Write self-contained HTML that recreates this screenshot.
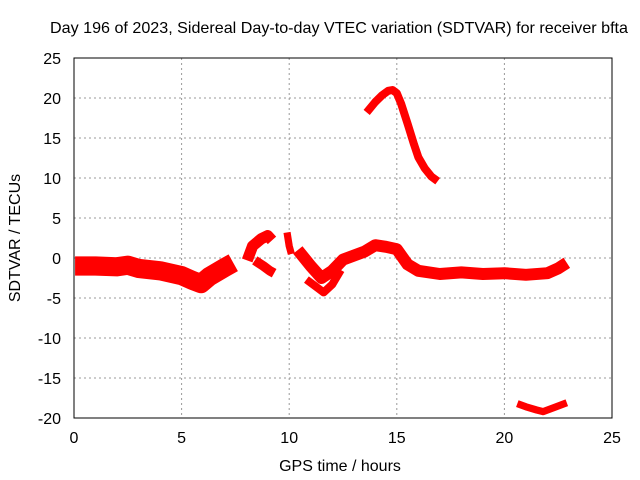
<!DOCTYPE html>
<html><head><meta charset="utf-8"><style>
body{margin:0;background:#fff}
svg{display:block;font-family:"Liberation Sans",sans-serif}
</style></head><body>
<svg id="chart" width="640" height="480">
<text x="339" y="33" font-size="16" text-anchor="middle" textLength="578" lengthAdjust="spacingAndGlyphs">Day 196 of 2023, Sidereal Day-to-day VTEC variation (SDTVAR) for receiver bfta</text>
<text x="340" y="471" font-size="16" text-anchor="middle">GPS time / hours</text>
<text transform="translate(20,238) rotate(-90)" font-size="16" text-anchor="middle">SDTVAR / TECUs</text>
<g id="grid"></g><g id="marks"></g>
<rect x="74" y="58" width="538" height="360" fill="none" stroke="#000" stroke-width="1"/>
</svg>
<script>
const xTicks=[0,5,10,15,20,25];
const yTicks=[25,20,15,10,5,0,-5,-10,-15,-20];
// tracks: [hours array, values array, thickness in TECU]
const mainH=[0.05,1,2,2.5,3,4,5,5.5,5.9,6.3,7,7.4];
const mainV=[-1,-1,-1.1,-0.9,-1.3,-1.6,-2.2,-2.8,-3.2,-2.3,-1.2,-0.6];
const arcAH=[8.05,8.3,8.7,9,9.2];
const arcAV=[-0.3,1.5,2.4,2.8,2.2];
const arcBH=[8.4,8.8,9.1,9.3];
const arcBV=[-0.3,-1,-1.6,-1.9];
const spotH=[9.9,10,10.1];
const spotV=[3.2,1.5,0.5];
const midH=[10.4,11,11.5,12,12.5,13,13.5,14,14.5,15,15.5,16,17,18,19,20,21,22,22.5,22.9];
const midV=[1,-1,-2.5,-1.6,-0.2,0.3,0.8,1.6,1.4,1.1,-0.8,-1.6,-2,-1.8,-2,-1.9,-2.1,-1.9,-1.3,-0.6];
const lowH=[10.8,11.3,11.6,12,12.4];
const lowV=[-2.7,-3.7,-4.3,-3.3,-1.5];
const topH=[13.6,14,14.3,14.6,14.8,15,15.2,15.5,15.8,16,16.3,16.6,16.9];
const topV=[18.2,19.5,20.3,20.9,21,20.6,19.3,16.8,14.2,12.6,11.2,10.2,9.6];
const botH=[20.6,21,21.5,21.8,22.3,22.9];
const botV=[-18.2,-18.6,-19,-19.2,-18.7,-18.1];
const tracks=[[mainH,mainV,2.4],[arcAH,arcAV,1.4],[arcBH,arcBV,1.2],[spotH,spotV,0.9],[midH,midV,1.5],[lowH,lowV,1.0],[topH,topV,1.0],[botH,botV,0.9]];
const X=h=>74+h*538/25, Y=v=>258-v*8;
const NS='http://www.w3.org/2000/svg';
const grid=document.getElementById('grid'), marks=document.getElementById('marks');
xTicks.forEach(t=>{
 if(t>0&&t<25){const l=document.createElementNS(NS,'line');
 
 
 l.setAttribute('x1',X(t));l.setAttribute('x2',X(t));l.setAttribute('y1',58);l.setAttribute('y2',418);
 l.setAttribute('stroke','#999');l.setAttribute('stroke-dasharray','2,3');grid.appendChild(l);}
 const tk=document.createElementNS(NS,'text');
 
 
 tk.setAttribute('x',X(t));tk.setAttribute('y',443);tk.setAttribute('font-size','16');tk.setAttribute('text-anchor','middle');tk.textContent=t;grid.appendChild(tk);
});
yTicks.forEach(t=>{
 if(t<25&&t>-20){const l=document.createElementNS(NS,'line');
 
 
 l.setAttribute('x1',74);l.setAttribute('x2',612);l.setAttribute('y1',Y(t));l.setAttribute('y2',Y(t));
 l.setAttribute('stroke','#999');l.setAttribute('stroke-dasharray','2,3');grid.appendChild(l);}
 const tk=document.createElementNS(NS,'text');
 
 
 tk.setAttribute('x',61);tk.setAttribute('y',Y(t)+6);tk.setAttribute('font-size','16');tk.setAttribute('text-anchor','end');tk.textContent=t;grid.appendChild(tk);
});
tracks.forEach(([hs,vs,w])=>{
 const p=document.createElementNS(NS,'polyline');
 
 
 p.setAttribute('points',hs.map((h,i)=>X(h)+','+Y(vs[i])).join(' '));
 p.setAttribute('fill','none');p.setAttribute('stroke','#f00');p.setAttribute('stroke-width',w*8);
 p.setAttribute('stroke-linejoin','round');p.setAttribute('stroke-linecap','butt');
 marks.appendChild(p);
});
</script>
</body></html>
